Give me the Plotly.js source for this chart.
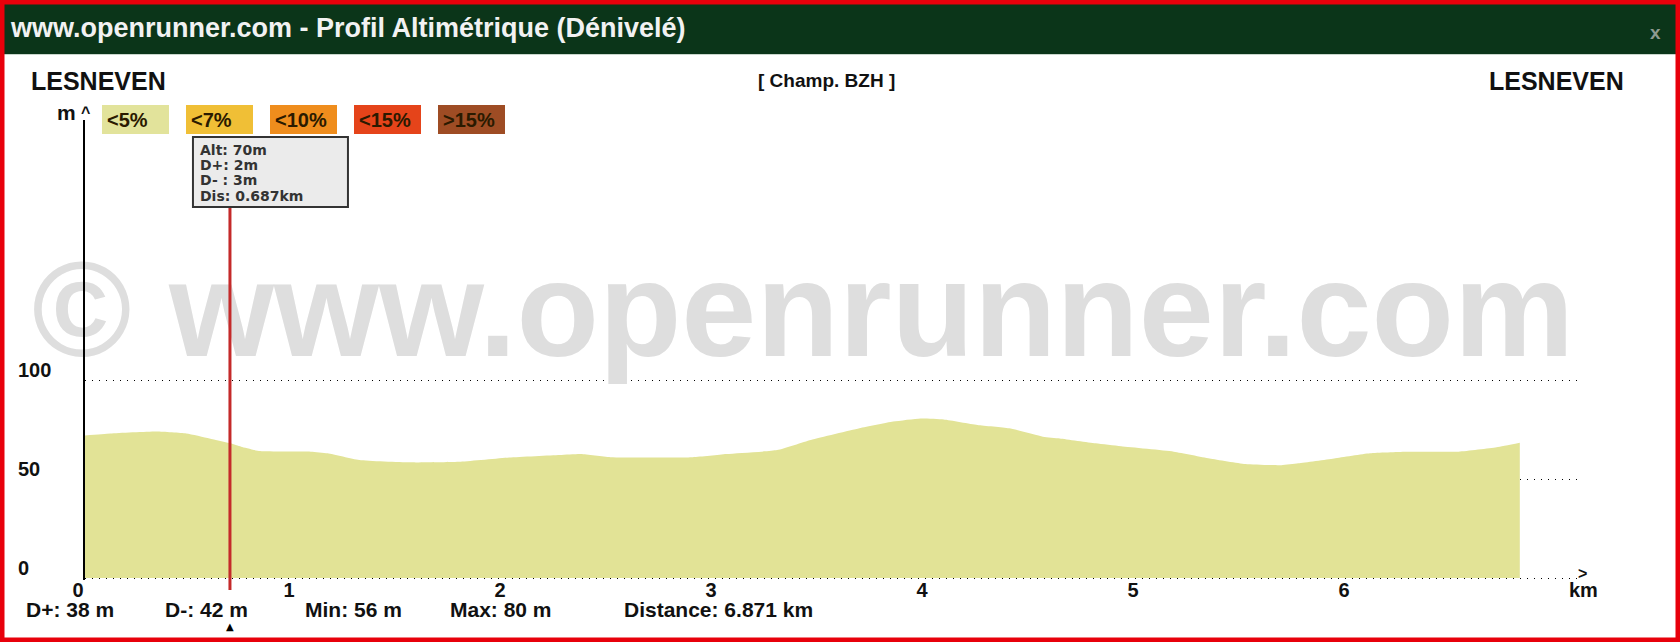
<!DOCTYPE html>
<html>
<head>
<meta charset="utf-8">
<script src="https://cdn.plot.ly/plotly-3.0.1.min.js"></script>
<style>html,body{margin:0;padding:0;background:#fff;}#chart{width:1680px;height:642px;}</style>
</head>
<body>
<div id="chart"></div>
<script>
// ---------- data ----------
const distKm = [0,0.12,0.34,0.48,0.59,0.69,0.74,0.83,1.07,1.15,1.30,1.54,1.78,2.01,2.25,2.35,2.49,2.88,3.04,3.28,3.44,3.67,3.83,3.96,4.07,4.23,4.38,4.54,4.62,4.79,4.91,5.16,5.33,5.50,5.67,5.75,5.92,6.09,6.26,6.51,6.69,6.80];
const altM = [72,73,74,73,70.5,68,66.3,64.1,63.8,63,59.6,58.4,58.7,60.8,62.1,62.6,61,61,62.6,64.6,69.7,75.6,79,80.6,80.1,77.3,75.6,71.4,70.5,68,66.5,63.8,60.4,57.6,57,57.9,60.4,63,63.8,63.8,66,68.3];
const xTickVals = [0,1,2,3,4,5,6];
const xTickText = ['0','1','2','3','4','5','6'];
const yTickVals = [0,50,100];
const yTickText = ['0','50','100'];
const legendLabels = ['&lt;5%','&lt;7%','&lt;10%','&lt;15%','&gt;15%'];
const legendColors = ['#e2e39b','#f0bf36','#ef8d1d','#e5441a','#9e4c24'];
const cursorKm = 0.687, cursorAlt = 70, cursorDplus = 2, cursorDminus = 3;
const tooltipLines = ['Alt: ' + cursorAlt + 'm', 'D+: ' + cursorDplus + 'm', 'D- : ' + cursorDminus + 'm', 'Dis: ' + cursorKm + 'km'];
const statLabels = ['D+: ','D-: ','Min: ','Max: ','Distance: '];
const statValues = ['38 m','42 m','56 m','80 m','6.871 km'];
const startName = 'LESNEVEN', endName = 'LESNEVEN', routeName = '[ Champ. BZH ]';
const titleText = 'www.openrunner.com - Profil Altimétrique (Dénivelé)';
const watermark = '© www.openrunner.com';

// ---------- geometry ----------
const W = 1680, H = 642;
const X0 = 85, PXKM = 211, XEND = 1577;   // x axis pixels
const Y0 = 578, PXM = 1.98, YTOP = 120;   // y axis pixels
const YMIN = -1;
const px = p => p / W;
const py = p => 1 - p / H;
const kmAt = p => (p - X0) / PXKM;
const mAt = p => (Y0 - p) / PXM;

const SANS = '"Liberation Sans",Arial,sans-serif';
const DEJA = '"DejaVu Sans",Verdana,sans-serif';

const traces = [
  { // watermark
    x: [kmAt(803)], y: [mAt(322)], mode: 'text', text: [watermark],
    textposition: 'middle center', cliponaxis: false, hoverinfo: 'skip',
    textfont: {family: SANS, size: 135, color: '#dedede', weight: 'bold'}
  },
  { // profile
    x: distKm, y: altM, mode: 'lines', fill: 'tozeroy',
    fillcolor: '#e2e396', line: {width: 0, color: '#e2e396', shape: 'spline', smoothing: 0.5}, hoverinfo: 'skip'
  }
];

const shapes = [
  {type:'rect', xref:'paper', yref:'paper', x0:0, x1:1, y0:py(54), y1:py(3), fillcolor:'#0b3519', line:{width:0}, layer:'below'},
  {type:'line', xref:'paper', yref:'paper', x0:0, x1:1, y0:py(54.5), y1:py(54.5), line:{color:'#c9d6cc', width:1}, layer:'below'},
  {type:'line', xref:'x', yref:'paper', x0:cursorKm, x1:cursorKm, y0:py(590), y1:py(208), line:{color:'#c42a2a', width:3}, layer:'above'},
  {type:'rect', xref:'x', xsizemode:'pixel', xanchor:cursorKm, x0:-37, x1:118, yref:'paper', y0:py(207), y1:py(137),
   fillcolor:'#ebebeb', line:{color:'#333', width:2}, layer:'above'},
  {type:'rect', xref:'paper', yref:'paper', x0:0, x1:1, y0:0, y1:1, fillcolor:'rgba(0,0,0,0)', line:{color:'#e8000b', width:9}, layer:'above'}
];

const annotations = [];
function ann(o) { annotations.push(Object.assign({showarrow:false, xref:'paper', yref:'paper'}, o)); }

ann({x:px(8), y:py(28), xanchor:'left', yanchor:'middle', text:titleText, font:{family:SANS, size:27, color:'#f2f2f2', weight:'bold'}});
ann({x:px(1655), y:py(33), xanchor:'center', yanchor:'middle', text:'x', font:{family:SANS, size:19, color:'#8e9a90', weight:'bold'}});
ann({x:px(29), y:py(81), xanchor:'left', yanchor:'middle', text:startName, font:{family:SANS, size:25, color:'#111', weight:'bold'}});
ann({x:px(1626), y:py(81), xanchor:'right', yanchor:'middle', text:endName, font:{family:SANS, size:25, color:'#111', weight:'bold'}});
ann({x:px(826), y:py(81), xanchor:'center', yanchor:'middle', text:routeName, font:{family:SANS, size:19, color:'#111', weight:'bold'}});
ann({x:px(55), y:py(112), xanchor:'left', yanchor:'middle', text:'m', font:{family:SANS, size:21, color:'#111', weight:'bold'}});
ann({x:px(85), y:py(112), xanchor:'center', yanchor:'middle', text:'^', font:{family:SANS, size:16, color:'#111', weight:'bold'}});

legendLabels.forEach((lab, i) => {
  const left = 102 + i * 84;
  shapes.push({type:'rect', xref:'paper', yref:'paper', x0:px(left), x1:px(left + 67), y0:py(134), y1:py(105), fillcolor:legendColors[i], line:{width:0}, layer:'below'});
  ann({x:px(left + 3), y:py(120), xanchor:'left', yanchor:'middle', text:lab, font:{family:SANS, size:20, color:'#2a1a00', weight:'bold'}});
});

// tooltip lines
tooltipLines.forEach((t, i) => ann({xref:'x', x:cursorKm, xshift:-32, xanchor:'left', y:py(150 + i * 15.2), yanchor:'middle',
  text:t, font:{family:DEJA, size:14, color:'#333', weight:'bold'}}));
ann({xref:'x', x:cursorKm, y:py(626), xanchor:'center', yanchor:'middle', text:'▲', font:{family:DEJA, size:10, color:'#000'}});

// y tick labels
yTickVals.forEach((v, i) => ann({x:px(16), yref:'y', y:v, yshift:10, xanchor:'left', yanchor:'middle', text:yTickText[i], font:{family:SANS, size:20, color:'#111', weight:'bold'}}));

// km label + arrow
ann({x:px(1583), y:py(590), xanchor:'center', yanchor:'middle', text:'km', font:{family:SANS, size:20, color:'#111', weight:'bold'}});
ann({x:px(1582), y:py(573), xanchor:'center', yanchor:'middle', text:'&gt;', font:{family:SANS, size:16, color:'#111', weight:'bold'}});

// bottom stats
const statX = [24, 163, 303, 448, 622];
statLabels.forEach((lab, i) => ann({x:px(statX[i]), y:py(609), xanchor:'left', yanchor:'middle', text:lab + statValues[i], font:{family:SANS, size:21, color:'#111', weight:'bold'}}));

const layout = {
  width: W, height: H, margin:{l:0, r:0, t:0, b:0},
  paper_bgcolor:'#ffffff', plot_bgcolor:'rgba(0,0,0,0)', showlegend:false, hovermode:false,
  xaxis:{domain:[px(X0), px(XEND)], range:[0, kmAt(XEND)], showgrid:false, zeroline:false, showline:false,
         tickmode:'array', tickvals:xTickVals, ticktext:xTickText, ticks:'', ticklabelshift:-7, ticklabelstandoff:-4,
         tickfont:{family:SANS, size:20, color:'#111', weight:'bold'}, fixedrange:true},
  yaxis:{domain:[1 - (Y0 - YMIN * PXM) / H, 1 - YTOP / H], range:[YMIN, mAt(YTOP)], showgrid:true, gridcolor:'#000', gridwidth:1, griddash:'1px,6px',
         tickmode:'array', tickvals:yTickVals, showticklabels:false, ticks:'', zeroline:false,
         showline:true, linecolor:'#000', linewidth:2, fixedrange:true},
  shapes: shapes, annotations: annotations
};

Plotly.newPlot('chart', traces, layout, {displayModeBar:false, staticPlot:true});
</script>
</body>
</html>
